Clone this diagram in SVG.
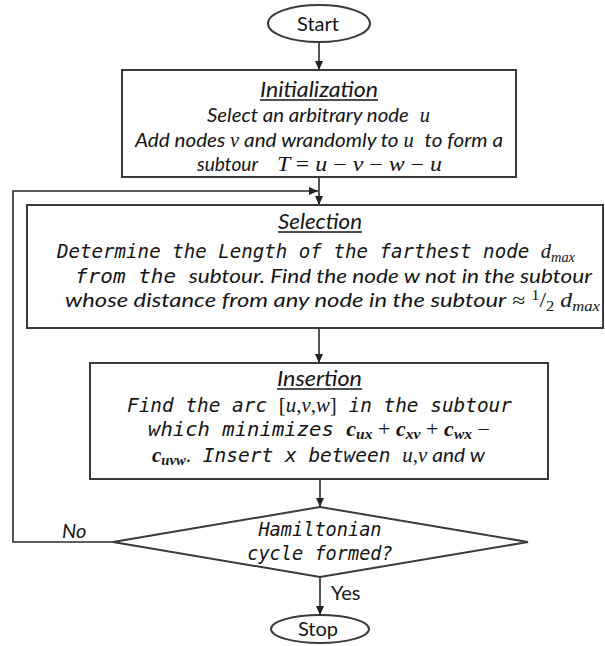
<svg xmlns="http://www.w3.org/2000/svg" width="605" height="646" viewBox="0 0 605 646">
<defs>
<marker id="ah" markerWidth="9" markerHeight="8" refX="9" refY="4" orient="auto" markerUnits="userSpaceOnUse"><path d="M0,0 L9,4 L0,8 z" fill="#222"/></marker>
<style>
.box{fill:#fff;stroke:#3a3a3a;stroke-width:2}
.conn{fill:none;stroke:#2a2a2a;stroke-width:1.6}
text{fill:#151515}
.sans{font-family:Lato,"Open Sans","Liberation Sans",sans-serif;font-size:20px;font-weight:normal}
.it{font-style:italic}
.head{font-family:Lato,"Open Sans","Liberation Sans",sans-serif;font-size:21px;font-style:italic}
.mono{font-family:"DejaVu Sans Mono","Liberation Mono",monospace;font-size:18.6px;font-style:italic;font-weight:normal}
.m{font-family:"Liberation Serif","DejaVu Serif",serif;font-size:20px;font-style:italic;font-weight:normal}
.mn{font-family:"Liberation Serif","DejaVu Serif",serif;font-size:20px;font-style:normal;font-weight:normal}
.mb{font-family:"Liberation Serif","DejaVu Serif",serif;font-size:20px;font-style:italic;font-weight:bold}
.sub{font-family:"Liberation Serif","DejaVu Serif",serif;font-size:14px;font-style:italic;font-weight:normal}
.subn{font-family:"Liberation Serif","DejaVu Serif",serif;font-size:14px;font-style:normal;font-weight:normal}
.subb{font-family:"Liberation Serif","DejaVu Serif",serif;font-size:14px;font-style:italic;font-weight:bold}
.ul{stroke:#151515;stroke-width:1.3}
</style>
</defs>
<g id="connectors">
<line class="conn" x1="319" y1="42" x2="319" y2="70" marker-end="url(#ah)"/>
<line class="conn" x1="319" y1="177" x2="319" y2="205" marker-end="url(#ah)"/>
<path class="conn" d="M113,542 H13 V191 H318" marker-end="url(#ah)"/>
<line class="conn" x1="319" y1="328" x2="319" y2="363" marker-end="url(#ah)"/>
<line class="conn" x1="320" y1="479" x2="320" y2="507" marker-end="url(#ah)"/>
<line class="conn" x1="320" y1="577" x2="320" y2="615" marker-end="url(#ah)"/>
<text class="sans it" x="62" y="538" font-size="21">No</text>
<text class="sans" x="331" y="600" font-size="21">Yes</text>
</g>
<g id="start">
<ellipse class="box" cx="319" cy="23.5" rx="51" ry="18.5"/>
<text class="sans" x="318" y="31" text-anchor="middle" font-size="22">Start</text>
</g>
<g id="init">
<rect class="box" x="122" y="70" width="394" height="107"/>
<text class="head" x="260" y="97" textLength="118" lengthAdjust="spacingAndGlyphs">Initialization</text>
<line class="ul" x1="260" y1="100" x2="378" y2="100"/>
<text class="sans it" x="207" y="122" textLength="223" lengthAdjust="spacingAndGlyphs">Select an arbitrary node <tspan class="m" dx="6">u</tspan></text>
<text class="sans it" x="135" y="147" textLength="368" lengthAdjust="spacingAndGlyphs">Add nodes <tspan class="m">v</tspan> and wrandomly to <tspan class="m">u</tspan><tspan dx="6"> to form a</tspan></text>
<text class="sans it" x="197" y="171" textLength="61" lengthAdjust="spacingAndGlyphs">subtour</text>
<text class="m" x="277" y="171" textLength="165" lengthAdjust="spacingAndGlyphs">T <tspan class="mn">= </tspan>u <tspan class="mn">− </tspan>v <tspan class="mn">− </tspan>w <tspan class="mn">− </tspan>u</text>
</g>
<g id="selection">
<rect class="box" x="27" y="205" width="576" height="123"/>
<text class="head" x="278" y="229" textLength="84" lengthAdjust="spacingAndGlyphs">Selection</text>
<line class="ul" x1="278" y1="232" x2="362" y2="232"/>
<text class="mono" x="57" y="258" textLength="518" lengthAdjust="spacingAndGlyphs">Determine the Length of the farthest node <tspan class="m">d</tspan><tspan class="sub" dy="4">max</tspan></text>
<text class="mono" x="75" y="283" textLength="517" lengthAdjust="spacingAndGlyphs">from the <tspan class="sans it">subtour. Find the node w not in the subtour</tspan></text>
<text class="sans it" x="65" y="307" textLength="535" lengthAdjust="spacingAndGlyphs">whose distance from any node in the subtour<tspan class="mn"> ≈ </tspan><tspan class="subn" dy="-7">1</tspan><tspan class="mn" dy="7">/</tspan><tspan class="subn" dy="4">2</tspan><tspan class="m" dy="-4"> d</tspan><tspan class="sub" dy="4">max</tspan></text>
</g>
<g id="insertion">
<rect class="box" x="90" y="363" width="458" height="116"/>
<text class="head" x="277" y="386" textLength="85" lengthAdjust="spacingAndGlyphs">Insertion</text>
<line class="ul" x1="277" y1="389" x2="362" y2="389"/>
<text class="mono" x="127" y="412" textLength="385" lengthAdjust="spacingAndGlyphs">Find the arc <tspan class="mn">[</tspan><tspan class="m">u</tspan><tspan class="mn">,</tspan><tspan class="m">v</tspan><tspan class="mn">,</tspan><tspan class="m">w</tspan><tspan class="mn">]</tspan> in the subtour</text>
<text class="mono" x="148" y="436" textLength="342" lengthAdjust="spacingAndGlyphs">which minimizes <tspan class="mb">c</tspan><tspan class="subb" dy="3">ux</tspan><tspan class="mn" dy="-3"> + </tspan><tspan class="mb">c</tspan><tspan class="subb" dy="3">xv</tspan><tspan class="mn" dy="-3"> + </tspan><tspan class="mb">c</tspan><tspan class="subb" dy="3">wx</tspan><tspan class="mn" dy="-3"> −</tspan></text>
<text class="mono" x="152" y="462" textLength="333" lengthAdjust="spacingAndGlyphs"><tspan class="mb">c</tspan><tspan class="subb" dy="3">uvw</tspan><tspan class="mn" dy="-3">.</tspan> Insert x between <tspan class="m">u</tspan><tspan class="mn">,</tspan><tspan class="m">v</tspan><tspan class="sans it"> and w</tspan></text>
</g>
<g id="decision">
<polygon class="box" points="320,507 528,542 320,577 113,542"/>
<text class="mono" x="320" y="536" text-anchor="middle">Hamiltonian</text>
<text class="mono" x="320" y="560" text-anchor="middle">cycle formed?</text>
</g>
<g id="stop">
<ellipse class="box" cx="320" cy="629" rx="49" ry="14"/>
<text class="sans" x="318" y="636" text-anchor="middle" font-size="22">Stop</text>
</g>
</svg>
